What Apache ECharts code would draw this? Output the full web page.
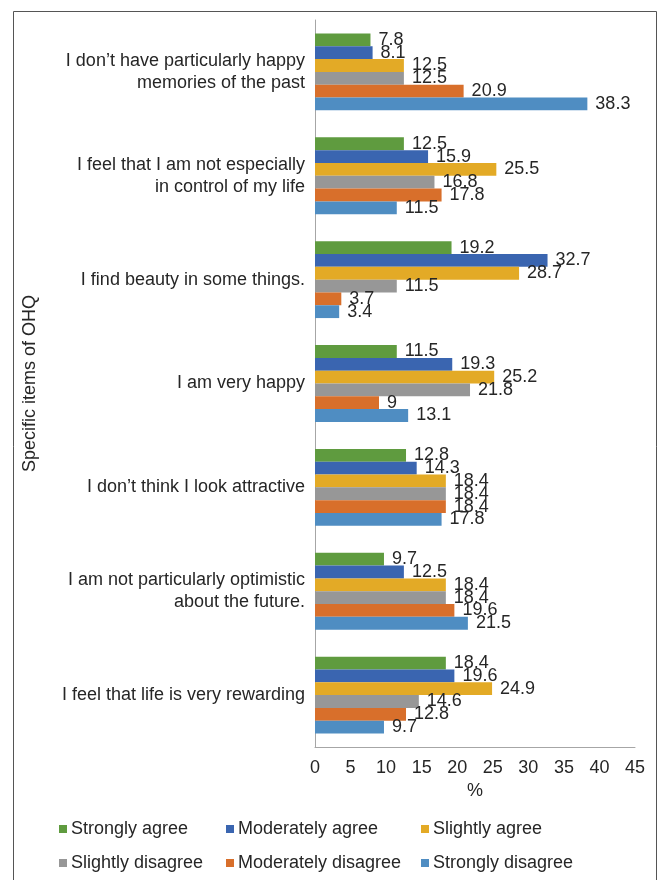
<!DOCTYPE html>
<html>
<head>
<meta charset="utf-8">
<script src="https://cdn.jsdelivr.net/npm/echarts@6/dist/echarts.min.js"></script>
<style>html,body{margin:0;padding:0;background:#fff;}#c{width:659px;height:880px;}</style>
</head>
<body>
<div id="c"></div>
<script>
const categories = [
  "I don\u2019t have particularly happy\nmemories of the past",
  "I feel that I am not especially\nin control of my life",
  "I find beauty in some things.",
  "I am very happy",
  "I don\u2019t think I look attractive",
  "I am not particularly optimistic\nabout the future.",
  "I feel that life is very rewarding"
];
const seriesNames = ["Strongly agree","Moderately agree","Slightly agree","Slightly disagree","Moderately disagree","Strongly disagree"];
const stronglyAgree      = [7.8, 12.5, 19.2, 11.5, 12.8, 9.7, 18.4];
const moderatelyAgree    = [8.1, 15.9, 32.7, 19.3, 14.3, 12.5, 19.6];
const slightlyAgree      = [12.5, 25.5, 28.7, 25.2, 18.4, 18.4, 24.9];
const slightlyDisagree   = [12.5, 16.8, 11.5, 21.8, 18.4, 18.4, 14.6];
const moderatelyDisagree = [20.9, 17.8, 3.7, 9, 18.4, 19.6, 12.8];
const stronglyDisagree   = [38.3, 11.5, 3.4, 13.1, 17.8, 21.5, 9.7];
const xTicks = [0,5,10,15,20,25,30,35,40,45];

const colors = ["#5F9B3F","#3A65B0","#E3AA26","#979797","#D86F2B","#4F8DC2"];
const values = [stronglyAgree, moderatelyAgree, slightlyAgree, slightlyDisagree, moderatelyDisagree, stronglyDisagree];
const FONT = "Liberation Sans";
const TXT = "#262626";
const FS = 18;

const chart = echarts.init(document.getElementById('c'), null, {renderer:'canvas'});

const legendPos = [[59,820],[226,820],[421,820],[59,854],[226,854],[421,854]];
const legends = seriesNames.map((n,i)=>({
  data:[n], left:legendPos[i][0], top:legendPos[i][1],
  icon:'rect', itemWidth:8, itemHeight:8, itemGap:0, padding:0,
  textStyle:{fontFamily:FONT, fontSize:FS, color:TXT, padding:[0,0,0,-1]}
}));

chart.setOption({
  animation:false,
  color: colors,
  graphic:[{type:'rect', shape:{x:13.5,y:11.5,width:643,height:900}, style:{fill:'none', stroke:'#555', lineWidth:1}, silent:true}],
  grid:{left:315, right:24, top:20, bottom:133, containLabel:false},
  legend: legends,
  xAxis:{
    type:'value', min:0, max:45, interval:5,
    axisLine:{show:true, lineStyle:{color:'#A6A6A6', width:1}},
    axisTick:{show:false}, splitLine:{show:false},
    axisLabel:{fontFamily:FONT, fontSize:FS, color:TXT, margin:12,
      formatter:(v)=> xTicks.includes(v) ? String(v) : ''},
    name:'%', nameLocation:'middle', nameGap:34,
    nameTextStyle:{fontFamily:FONT, fontSize:FS, color:TXT}
  },
  yAxis:{
    type:'category', data:categories, inverse:true,
    axisLine:{show:true, lineStyle:{color:'#A6A6A6', width:1}},
    axisTick:{show:false},
    axisLabel:{fontFamily:FONT, fontSize:FS, color:TXT, margin:10, lineHeight:22, align:'right'},
    name:'Specific items of OHQ', nameLocation:'middle', nameGap:276, nameRotate:90,
    nameTextStyle:{fontFamily:FONT, fontSize:FS, color:TXT}
  },
  series: seriesNames.map((n,i)=>({
    name:n, type:'bar', data:values[i],
    barGap:'0%', barCategoryGap:'26%',
    itemStyle:{color:colors[i]},
    label:{show:true, position:'right', distance:8, fontFamily:FONT, fontSize:FS, color:TXT}
  }))
});
</script>
</body>
</html>
